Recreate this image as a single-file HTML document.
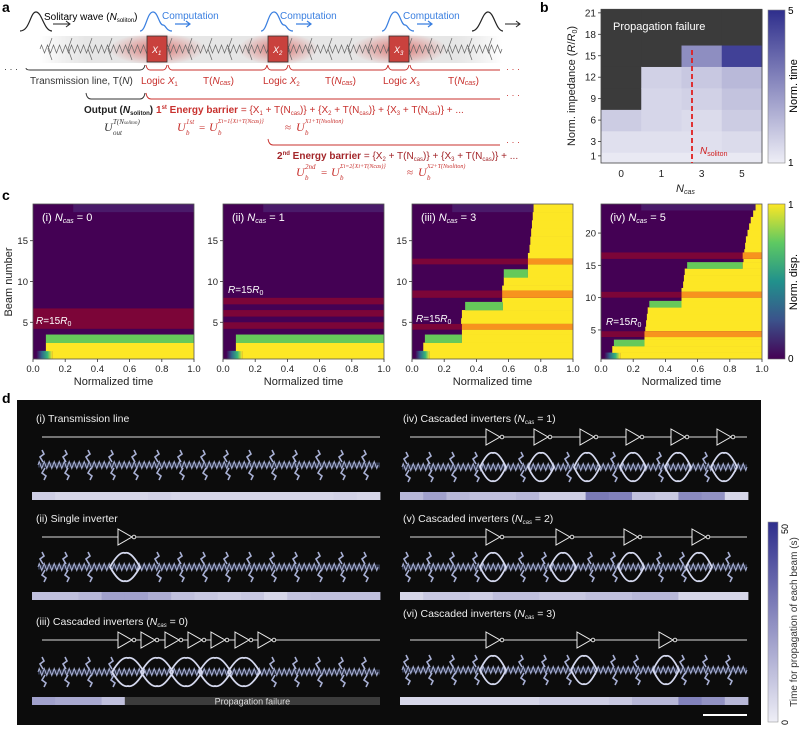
<!DOCTYPE html>
<html><head><meta charset="utf-8"><style>
html,body{margin:0;padding:0;background:#fff;}
svg{display:block;font-family:"Liberation Sans",sans-serif;}
</style></head><body>
<svg id="fig" width="800" height="730" viewBox="0 0 800 730" xmlns="http://www.w3.org/2000/svg">
<defs>
<linearGradient id="viridis" x1="0" y1="1" x2="0" y2="0">
<stop offset="0" stop-color="#440154"/><stop offset="0.25" stop-color="#3b528b"/><stop offset="0.5" stop-color="#21918c"/><stop offset="0.75" stop-color="#5ec962"/><stop offset="1" stop-color="#fde725"/></linearGradient>
<linearGradient id="lav" x1="0" y1="1" x2="0" y2="0"><stop offset="0" stop-color="#eeeef6"/><stop offset="1" stop-color="#2e2e8c"/></linearGradient>
<linearGradient id="rise" x1="0" y1="0" x2="1" y2="0"><stop offset="0" stop-color="#440154"/><stop offset="0.35" stop-color="#31688e"/><stop offset="0.7" stop-color="#35b779"/><stop offset="1" stop-color="#fde725"/></linearGradient>
<radialGradient id="glow" cx="0.5" cy="0.5" r="0.5"><stop offset="0" stop-color="#d9534f" stop-opacity="0.75"/><stop offset="1" stop-color="#d9534f" stop-opacity="0"/></radialGradient>
<linearGradient id="band" x1="0" y1="0" x2="1" y2="0"><stop offset="0" stop-color="#ddd" stop-opacity="0"/><stop offset="0.1" stop-color="#e6e6e6"/><stop offset="0.9" stop-color="#e6e6e6"/><stop offset="1" stop-color="#ddd" stop-opacity="0"/></linearGradient>
</defs>

<!-- ============ PANEL A ============ -->
<g>
<text x="2" y="12" font-size="14" font-weight="bold">a</text>
<rect x="40" y="36" width="462" height="27" fill="url(#band)"/>
<ellipse cx="157" cy="49" rx="48" ry="16" fill="url(#glow)"/>
<ellipse cx="278" cy="49" rx="40" ry="16" fill="url(#glow)"/>
<ellipse cx="399" cy="49" rx="48" ry="16" fill="url(#glow)"/>
<path id="springpath" d="" fill="none" stroke="#666" stroke-width="0.7"/>
<rect x="147" y="36" width="20" height="26" fill="#c9413d" stroke="#333" stroke-width="0.8"/>
<rect x="268" y="36" width="20" height="26" fill="#c9413d" stroke="#333" stroke-width="0.8"/>
<rect x="389" y="36" width="20" height="26" fill="#c9413d" stroke="#333" stroke-width="0.8"/>
<text x="152" y="53" font-size="9" fill="#fff" font-style="italic">X<tspan font-size="6" dy="2">1</tspan></text>
<text x="273" y="53" font-size="9" fill="#fff" font-style="italic">X<tspan font-size="6" dy="2">2</tspan></text>
<text x="394" y="53" font-size="9" fill="#fff" font-style="italic">X<tspan font-size="6" dy="2">3</tspan></text>
<path d="M20 31 C30 31 30 12 36 12 C42 12 44 31 52 31" fill="none" stroke="#222" stroke-width="1.2"/>
<path d="M53 24 L70 24 M66 21 L70 24 L66 27" fill="none" stroke="#222" stroke-width="1"/>
<text x="44" y="20" font-size="10">Solitary wave (<tspan font-style="italic">N</tspan><tspan font-size="6" dy="2">soliton</tspan><tspan dy="-2">)</tspan></text>
<g fill="none" stroke="#3a7fe0" stroke-width="1.2">
<path d="M140 31 C146 31 147 12 153 12 C158 12 159 25 163 25 C166 25 166 31 172 31"/>
<path d="M261 31 C267 31 268 12 274 12 C279 12 280 25 284 25 C287 25 287 31 293 31"/>
<path d="M382 31 C388 31 389 12 395 12 C400 12 401 25 405 25 C408 25 408 31 414 31"/>
<path d="M175 24 L190 24 M186 21 L190 24 L186 27 M296 24 L311 24 M307 21 L311 24 L307 27 M417 24 L432 24 M428 21 L432 24 L428 27"/>
</g>
<g font-size="10" fill="#3a7fe0">
<text x="162" y="19">Computation</text>
<text x="280" y="19">Computation</text>
<text x="403" y="19">Computation</text>
</g>
<path d="M472 31 C480 31 482 12 488 12 C494 12 496 31 503 31" fill="none" stroke="#222" stroke-width="1.2"/>
<path d="M505 24 L520 24 M516 21 L520 24 L516 27" fill="none" stroke="#222" stroke-width="1"/>
<text x="4" y="72" font-size="9" fill="#333">· · ·</text>
<path d="M26 68 Q26 70 30 70 L140 70 Q144 70 145 65" fill="none" stroke="#333" stroke-width="0.9"/>
<g fill="none" stroke="#c8312e" stroke-width="0.9">
<path d="M146 65 Q147 70 150 70 L163 70 Q166 70 167 65"/>
<path d="M168 65 Q169 70 172 70 L262 70 Q266 70 267 65"/>
<path d="M267 65 Q268 70 271 70 L284 70 Q287 70 288 65"/>
<path d="M289 65 Q290 70 293 70 L383 70 Q387 70 388 65"/>
<path d="M388 65 Q389 70 392 70 L405 70 Q408 70 409 65"/>
<path d="M410 65 Q411 70 414 70 L500 70"/>
<path d="M146 93 Q147 99 151 99 L500 99"/>
<path d="M268 139 Q269 145 273 145 L500 145"/>
</g>
<text x="506" y="72" font-size="9" fill="#c8312e">· · ·</text>
<text x="506" y="98" font-size="9" fill="#c8312e">· · ·</text>
<text x="506" y="145" font-size="9" fill="#c8312e">· · ·</text>
<path d="M86 93 Q87 99 91 99 L140 99 Q144 99 145 93" fill="none" stroke="#333" stroke-width="0.9"/>
<text x="30" y="84" font-size="10" fill="#333">Transmission line, T(<tspan font-style="italic">N</tspan>)</text>
<g font-size="10" fill="#c8312e">
<text x="141" y="84">Logic <tspan font-style="italic">X</tspan><tspan font-size="6" dy="2">1</tspan></text>
<text x="203" y="84">T(<tspan font-style="italic">N</tspan><tspan font-size="7" font-style="italic" dy="1">cas</tspan><tspan dy="-1">)</tspan></text>
<text x="263" y="84">Logic <tspan font-style="italic">X</tspan><tspan font-size="6" dy="2">2</tspan></text>
<text x="325" y="84">T(<tspan font-style="italic">N</tspan><tspan font-size="7" font-style="italic" dy="1">cas</tspan><tspan dy="-1">)</tspan></text>
<text x="383" y="84">Logic <tspan font-style="italic">X</tspan><tspan font-size="6" dy="2">3</tspan></text>
<text x="448" y="84">T(<tspan font-style="italic">N</tspan><tspan font-size="7" font-style="italic" dy="1">cas</tspan><tspan dy="-1">)</tspan></text>
</g>
<text x="84" y="113" font-size="10" font-weight="bold" fill="#222">Output (<tspan font-style="italic">N</tspan><tspan font-size="6" dy="2">soliton</tspan><tspan dy="-2">)</tspan></text>
<text x="156" y="113" font-size="10" fill="#c8312e"><tspan font-weight="bold">1<tspan font-size="6" dy="-4">st</tspan><tspan dy="4"> Energy barrier</tspan></tspan> = {X<tspan font-size="6" dy="2">1</tspan><tspan dy="-2"> + T(N</tspan><tspan font-size="6" dy="2">cas</tspan><tspan dy="-2">)} + {X</tspan><tspan font-size="6" dy="2">2</tspan><tspan dy="-2"> + T(N</tspan><tspan font-size="6" dy="2">cas</tspan><tspan dy="-2">)} + {X</tspan><tspan font-size="6" dy="2">3</tspan><tspan dy="-2"> + T(N</tspan><tspan font-size="6" dy="2">cas</tspan><tspan dy="-2">)} + ...</tspan></text>
<g font-family="Liberation Serif,serif" font-style="italic" fill="#333">
<text x="104" y="131" font-size="12">U</text><text x="113" y="124" font-size="7">T(N<tspan font-size="5">soliton</tspan>)</text><text x="113" y="135" font-size="7">out</text>
</g>
<g font-family="Liberation Serif,serif" font-style="italic" fill="#c8312e">
<text x="177" y="131" font-size="12">U</text><text x="186" y="124" font-size="7">1st</text><text x="186" y="135" font-size="7">b</text>
<text x="199" y="131" font-size="11" font-style="normal">=</text>
<text x="209" y="131" font-size="12">U</text><text x="218" y="123" font-size="6">Σi=1{Xi+T(Ncas)}</text><text x="218" y="135" font-size="7">b</text>
<text x="285" y="131" font-size="11" font-style="normal">≈</text>
<text x="296" y="131" font-size="12">U</text><text x="305" y="123" font-size="6">X1+T(Nsoliton)</text><text x="305" y="135" font-size="7">b</text>
</g>
<text x="277" y="159" font-size="10" fill="#a3262a"><tspan font-weight="bold">2<tspan font-size="6" dy="-4">nd</tspan><tspan dy="4"> Energy barrier</tspan></tspan> = {X<tspan font-size="6" dy="2">2</tspan><tspan dy="-2"> + T(N</tspan><tspan font-size="6" dy="2">cas</tspan><tspan dy="-2">)} + {X</tspan><tspan font-size="6" dy="2">3</tspan><tspan dy="-2"> + T(N</tspan><tspan font-size="6" dy="2">cas</tspan><tspan dy="-2">)} + ...</tspan></text>
<g font-family="Liberation Serif,serif" font-style="italic" fill="#c8312e">
<text x="296" y="176" font-size="12">U</text><text x="305" y="169" font-size="7">2nd</text><text x="305" y="180" font-size="7">b</text>
<text x="321" y="176" font-size="11" font-style="normal">=</text>
<text x="331" y="176" font-size="12">U</text><text x="340" y="168" font-size="6">Σi=2{Xi+T(Ncas)}</text><text x="340" y="180" font-size="7">b</text>
<text x="407" y="176" font-size="11" font-style="normal">≈</text>
<text x="418" y="176" font-size="12">U</text><text x="427" y="168" font-size="6">X2+T(Nsoliton)</text><text x="427" y="180" font-size="7">b</text>
</g>
</g>

<g id="pb">
<text x="540" y="12" font-size="14" font-weight="bold">b</text>
</g>
<g id="pc">
<text x="2" y="200" font-size="14" font-weight="bold">c</text>
</g>
<g id="pd">
<text x="2" y="403" font-size="14" font-weight="bold">d</text>
<rect x="17" y="400" width="744" height="325" fill="#0c0c0c"/>
</g>
</svg>
<script>
// ---------- Panel b data ----------
const bCategories = ['0','1','3','5'];
const bRowLo = [0,1.5,4.5,7.5,10.5,13.5,16.5];
const bRowHi = [1.5,4.5,7.5,10.5,13.5,16.5,21.5];
const bCol0 = [1.1,1.3,1.7,null,null,null,null];
const bCol1 = [1.1,1.3,1.5,1.5,1.6,null,null];
const bCol3 = [1.1,1.3,1.4,1.6,1.8,3.0,null];
const bCol5 = [1.1,1.4,1.7,1.9,2.1,4.6,null];
const bYTicks = [1,3,6,9,12,15,18,21];

// ---------- Panel c data ----------
const yellowI = [0.12,0.08,null,null,null,null,null,null,null,null,null,null,null,null,null,null,null,null,null];
const greenI  = [null,null,0.08,null,null,null,null,null,null,null,null,null,null,null,null,null,null,null,null];
const bandLoI = [4.2]; const bandHiI = [6.7]; const bandOrI = [null];
const yellowII = [0.12,0.08,null,null,null,null,null,null,null,null,null,null,null,null,null,null,null,null,null];
const greenII  = [null,null,0.08,null,null,null,null,null,null,null,null,null,null,null,null,null,null,null,null];
const bandLoII = [7.2,5.7,4.2]; const bandHiII = [8.0,6.5,5.0]; const bandOrII = [null,null,null];
const yellowIII = [0.11,0.07,0.31,0.31,0.305,0.31,0.565,0.56,0.56,0.57,0.72,0.72,0.72,0.73,0.735,0.74,0.745,0.75,0.755];
const greenIII  = [null,null,0.08,null,null,null,0.33,null,null,null,0.57,null,null,null,null,null,null,null,null];
const bandLoIII = [4.1,8.0,12.1]; const bandHiIII = [4.8,8.9,12.8]; const bandOrIII = [0.31,0.56,0.72];
const yellowIV = [0.12,0.07,0.27,0.27,0.275,0.28,0.285,0.29,0.5,0.5,0.5,0.51,0.515,0.52,0.88,0.885,0.89,0.895,0.9,0.91,0.92,0.93,0.945,0.96];
const greenIV  = [null,null,0.08,null,null,null,null,null,0.3,null,null,null,null,null,0.535,null,null,null,null,null,null,null,null,null];
const bandLoIV = [3.9,10.0,16.0]; const bandHiIV = [4.8,10.9,17.0]; const bandOrIV = [0.27,0.5,0.88];
const cXTicks = [0,0.2,0.4,0.6,0.8,1.0];
const cYTicks19 = [5,10,15];
const cYTicks24 = [5,10,15,20];

// ---------- Panel d data (seconds, 0-50) ----------
const barI   = [8,6,6,6,6,7,6,6,6,6,6,6,6,7,6];
const barII  = [12,12,14,20,20,17,12,10,8,10,6,11,12,12,12];
const barIII = [20,18,18,12];
const barIV  = [14,20,14,12,12,14,8,8,30,28,12,10,26,24,6];
const barV   = [6,10,10,8,12,12,10,10,12,12,14,14,6,6,6];
const barVI  = [6,6,6,6,6,6,8,8,8,10,14,14,28,24,14];

const NS='http://www.w3.org/2000/svg';
function mk(tag,attrs,parent){const e=document.createElementNS(NS,tag);for(const k in attrs)e.setAttribute(k,attrs[k]);parent.appendChild(e);return e;}
function lav(t){t=Math.max(0,Math.min(1,t));const a=[238,238,246],b=[46,46,140];return 'rgb('+a.map((v,i)=>Math.round(v+(b[i]-v)*t)).join(',')+')';}

(function(){let d='M40 49';for(let x=40;x<500;x+=6){d+=' L'+(x+1.5)+' 45 L'+(x+4.5)+' 53 L'+(x+6)+' 49';}
for(let x=52;x<500;x+=20){d+=' M'+x+' 38 L'+(x-4)+' 49 L'+x+' 60';}
document.getElementById('springpath').setAttribute('d',d);})();

// ---------- Panel b ----------
(function(){
const g=document.getElementById('pb');
const x0=601,x1=762,yB=(r)=>163-7.15*r;
const cw=(x1-x0)/bCategories.length;
const cols=[bCol0,bCol1,bCol3,bCol5];
cols.forEach((col,ci)=>{col.forEach((v,ri)=>{
 const r=mk('rect',{x:x0+ci*cw,y:yB(bRowHi[ri]),width:cw+0.5,height:yB(bRowLo[ri])-yB(bRowHi[ri])+0.5,fill:v===null?'#3b3b3b':lav((v-1)/4)},g);
 
 
});});
const fr=mk('rect',{x:x0,y:yB(21.5),width:x1-x0,height:yB(0)-yB(21.5),fill:'none',stroke:'#444','stroke-width':0.8},g);


const pf=mk('text',{x:613,y:30,'font-size':11,fill:'#fff'},g);pf.textContent='Propagation failure';


bYTicks.forEach(t=>{const y=yB(t);mk('line',{x1:x0-3,x2:x0,y1:y,y2:y,stroke:'#333','stroke-width':0.8},g);
 const tx=mk('text',{x:x0-5,y:y+3.5,'font-size':10,'text-anchor':'end',fill:'#222'},g);tx.textContent=t;
 
 });
bCategories.forEach((c,i)=>{const x=x0+cw*(i+0.5);const tx=mk('text',{x:x,y:177,'font-size':10,'text-anchor':'middle',fill:'#222'},g);tx.textContent=c;
 
 });
const dl=mk('line',{x1:692,x2:692,y1:50,y2:163,stroke:'#e02020','stroke-width':1.8,'stroke-dasharray':'5,3'},g);


const ns=mk('text',{x:700,y:154,'font-size':10,fill:'#d02020','font-style':'italic'},g);ns.innerHTML='N<tspan font-size="7" font-style="normal" dy="2">soliton</tspan>';


const yl=mk('text',{x:0,y:0,'font-size':11,'text-anchor':'middle',fill:'#222',transform:'translate(575,86) rotate(-90)'},g);yl.innerHTML='Norm. impedance (<tspan font-style="italic">R</tspan>/<tspan font-style="italic">R</tspan><tspan font-size="7" dy="2">0</tspan><tspan dy="-2">)</tspan>';


const xl=mk('text',{x:676,y:192,'font-size':11,'font-style':'italic',fill:'#222'},g);xl.innerHTML='N<tspan font-size="7" dy="2">cas</tspan>';


const cb=mk('rect',{x:768,y:10,width:17,height:153,fill:'url(#lav)',stroke:'#888','stroke-width':0.6},g);


const c5=mk('text',{x:788,y:14,'font-size':10},g);c5.textContent='5';
const c1=mk('text',{x:788,y:166,'font-size':10},g);c1.textContent='1';
const ct=mk('text',{x:0,y:0,'font-size':11,'text-anchor':'middle',transform:'translate(797,86) rotate(-90)'},g);ct.textContent='Norm. time';


})();

// ---------- Panel c ----------
(function(){
const g=document.getElementById('pc');
const panels=[
 {x0:33,n:19,yel:yellowI,grn:greenI,lo:bandLoI,hi:bandHiI,or:bandOrI,ticks:cYTicks19,title:'(i) ',val:'0',rl:[36,324]},
 {x0:223,n:19,yel:yellowII,grn:greenII,lo:bandLoII,hi:bandHiII,or:bandOrII,ticks:cYTicks19,title:'(ii) ',val:'1',rl:[228,293]},
 {x0:412,n:19,yel:yellowIII,grn:greenIII,lo:bandLoIII,hi:bandHiIII,or:bandOrIII,ticks:cYTicks19,title:'(iii) ',val:'3',rl:[416,322]},
 {x0:601,n:24,yel:yellowIV,grn:greenIV,lo:bandLoIV,hi:bandHiIV,or:bandOrIV,ticks:cYTicks24,title:'(iv) ',val:'5',rl:[606,325]}];
const W=161,yT=204,yBt=359;
panels.forEach((p,pi)=>{
 const xs=t=>p.x0+t*W; const ys=b=>yBt-(b-0.5)*(yBt-yT)/p.n;
 const pg=mk('g',{},g);
 
 
 mk('rect',{x:p.x0,y:yT,width:W,height:yBt-yT,fill:'#440154'},pg);
 const lastY=p.yel[p.n-1];
 mk('rect',{x:xs(0.25),y:ys(p.n+0.5),width:xs(lastY===null?1:lastY)-xs(0.25),height:ys(p.n-0.5)-ys(p.n+0.5),fill:'#4a1a6a'},pg);
 for(let i=0;i<p.n;i++){
  const b=i+1,top=ys(b+0.5),h=ys(b-0.5)-top+0.3;
  const ty=p.yel[i],tg=p.grn[i];
  if(i===0&&ty!==null){mk('rect',{x:xs(0.02),y:top,width:xs(ty)-xs(0.02),height:h,fill:'url(#rise)'},pg);}
  if(tg!==null){const r=mk('rect',{x:xs(tg),y:top,width:xs(ty===null?1:ty)-xs(tg),height:h,fill:'#66c95a'},pg);
   
   }
  if(ty!==null){const r=mk('rect',{x:xs(ty),y:top,width:xs(1)-xs(ty),height:h,fill:'#fde725'},pg);
   
   }
 }
 p.lo.forEach((lo,j)=>{const top=ys(p.hi[j]),h=ys(lo)-top;
  const r=mk('rect',{x:p.x0,y:top,width:W,height:h,fill:'#7c0538'},pg);
  
  
  if(p.or[j]!==null){const o=mk('rect',{x:xs(p.or[j]),y:top,width:xs(1)-xs(p.or[j]),height:h,fill:'#f7931e'},pg);
   
   }
 });
 mk('rect',{x:p.x0,y:yT,width:W,height:yBt-yT,fill:'none',stroke:'#555','stroke-width':0.8},pg);
 cXTicks.forEach(t=>{mk('line',{x1:xs(t),x2:xs(t),y1:yBt,y2:yBt+3,stroke:'#333','stroke-width':0.8},pg);
  const tx=mk('text',{x:xs(t),y:yBt+13,'font-size':9.5,'text-anchor':'middle',fill:'#222'},pg);tx.textContent=t.toFixed(1);
  
  });
 p.ticks.forEach(t=>{mk('line',{x1:p.x0-3,x2:p.x0,y1:ys(t),y2:ys(t),stroke:'#333','stroke-width':0.8},pg);
  const tx=mk('text',{x:p.x0-5,y:ys(t)+3.5,'font-size':9.5,'text-anchor':'end',fill:'#222'},pg);tx.textContent=t;
  
  });
 const xl=mk('text',{x:p.x0+W/2,y:385,'font-size':11,'text-anchor':'middle',fill:'#222'},pg);xl.textContent='Normalized time';
 
 
 const tt=mk('text',{x:p.x0+9,y:221,'font-size':11,fill:'#fff'},pg);tt.innerHTML=p.title+'<tspan font-style="italic">N</tspan><tspan font-size="7" font-style="italic" dy="2">cas</tspan><tspan dy="-2"> = '+p.val+'</tspan>';
 
 
 const rl=mk('text',{x:p.rl[0],y:p.rl[1],'font-size':10,fill:'#fff'},pg);rl.innerHTML='<tspan font-style="italic">R</tspan>=15<tspan font-style="italic">R</tspan><tspan font-size="7" dy="2">0</tspan>';
 
 
});
const yl=mk('text',{x:0,y:0,'font-size':11,'text-anchor':'middle',fill:'#222',transform:'translate(12,282) rotate(-90)'},g);yl.textContent='Beam number';


const cb=mk('rect',{x:768,y:204,width:17,height:155,fill:'url(#viridis)',stroke:'#666','stroke-width':0.6},g);


const a=mk('text',{x:788,y:208,'font-size':10},g);a.textContent='1';
const z=mk('text',{x:788,y:362,'font-size':10},g);z.textContent='0';
const ct=mk('text',{x:0,y:0,'font-size':11,'text-anchor':'middle',transform:'translate(797,282) rotate(-90)'},g);ct.textContent='Norm. disp.';


})();

// ---------- Panel d ----------
(function(){
const g=document.getElementById('pd');
function chain(x0,x1,yc,inv,big){
 const cg=mk('g',{},g);
 
 
 mk('rect',{x:x0,y:yc-2.5,width:x1-x0,height:5,fill:'#2e3448'},cg);
 let d='M'+x0+' '+yc;for(let x=x0;x<x1-4;x+=5){d+=' L'+(x+1.2)+' '+(yc-3.5)+' L'+(x+3.8)+' '+(yc+3.5)+' L'+(x+5)+' '+yc;}
 mk('path',{d:d,fill:'none',stroke:'#aab2d6','stroke-width':1},cg);
 for(let x=x0+5;x<x1;x+=23){
  if(inv.some(c=>Math.abs(x-c)<big)) continue;
  mk('path',{d:'M'+x+' '+(yc-3)+' l-3 -5 l4 -3 l-2 -4 M'+(x+2)+' '+(yc+3)+' l-3 5 l4 3 l-2 4',fill:'none',stroke:'#a8b0d4','stroke-width':1.6},cg);
 }
 inv.forEach(c=>{mk('path',{d:'M'+(c-big)+' '+yc+' Q'+(c-big*0.4)+' '+(yc-16)+' '+c+' '+(yc-14)+' Q'+(c+big*0.4)+' '+(yc-16)+' '+(c+big)+' '+yc+' Q'+(c+big*0.4)+' '+(yc+16)+' '+c+' '+(yc+14)+' Q'+(c-big*0.4)+' '+(yc+16)+' '+(c-big)+' '+yc+' Z',fill:'none',stroke:'#d4d8ee','stroke-width':1.8},cg);});
}
function wire(x0,x1,y,inv){
 const wg=mk('g',{},g);
 
 
 mk('line',{x1:x0,x2:x1,y1:y,y2:y,stroke:'#ddd','stroke-width':1},wg);
 inv.forEach(c=>{mk('path',{d:'M'+(c-7)+' '+(y-8)+' L'+(c+7)+' '+y+' L'+(c-7)+' '+(y+8)+' Z',fill:'#0c0c0c',stroke:'#eee','stroke-width':1},wg);
  mk('circle',{cx:c+9,cy:y,r:1.8,fill:'#0c0c0c',stroke:'#eee','stroke-width':0.9},wg);});
}
function bar(x0,x1,y,vals,nseg,fail){
 const w=(x1-x0)/nseg;
 vals.forEach((v,i)=>{const r=mk('rect',{x:x0+i*w,y:y,width:w+0.4,height:8,fill:lav(v/50)},g);
  
  });
 if(fail){const fx=x0+vals.length*w;const r=mk('rect',{x:fx,y:y,width:x1-fx,height:8,fill:'#3c3c3c'},g);
  
  
  const t=mk('text',{x:(fx+x1)/2,y:y+7.5,'font-size':9,'text-anchor':'middle',fill:'#ddd'},g);t.textContent='Propagation failure';
  
  }
}
function title(x,y,html){const t=mk('text',{x:x,y:y,'font-size':10.5,fill:'#eee'},g);t.innerHTML=html;
 
 }
const nc=v=>'(<tspan font-style="italic">N</tspan><tspan font-size="6" font-style="italic" dy="2">cas</tspan><tspan dy="-2"> = '+v+')</tspan>';
title(36,422,'(i) Transmission line');
wire(42,380,437,[]);chain(38,380,465,[],0);bar(32,380,492,barI,15,false);
title(36,522,'(ii) Single inverter');
wire(42,380,537,[125]);chain(38,380,567,[125],15);bar(32,380,592,barII,15,false);
title(36,625,'(iii) Cascaded inverters '+nc('0'));
const inv3=[125,148,172,195,218,242,265];
wire(42,380,640,inv3);chain(38,380,672,[128,157,186,215,244],16);bar(32,380,697,barIII,15,true);
title(403,422,'(iv) Cascaded inverters '+nc('1'));
const inv4=[493,541,587,633,678,724];
wire(410,747,437,inv4);chain(402,747,467,inv4,13);bar(400,748,492,barIV,15,false);
title(403,522,'(v) Cascaded inverters '+nc('2'));
const inv5=[493,563,631,699];
wire(410,747,537,inv5);chain(402,747,567,inv5,13);bar(400,748,592,barV,15,false);
title(403,617,'(vi) Cascaded inverters '+nc('3'));
const inv6=[493,584,666];
wire(410,747,640,inv6);chain(402,747,670,inv6,13);bar(400,748,697,barVI,15,false);
const sb=mk('line',{x1:703,x2:747,y1:715,y2:715,stroke:'#fff','stroke-width':2},g);


const cb=mk('rect',{x:768,y:522,width:10,height:200,fill:'url(#lav)',stroke:'#999','stroke-width':0.6},g);


const a=mk('text',{x:0,y:0,'font-size':9,transform:'translate(788,534) rotate(-90)'},g);a.textContent='50';
const z=mk('text',{x:0,y:0,'font-size':9,transform:'translate(788,725) rotate(-90)'},g);z.textContent='0';
const ct=mk('text',{x:0,y:0,'font-size':10,'text-anchor':'middle',fill:'#333',transform:'translate(797,622) rotate(-90)'},g);ct.textContent='Time for propagation of each beam (s)';


})();
</script>
</body></html>
